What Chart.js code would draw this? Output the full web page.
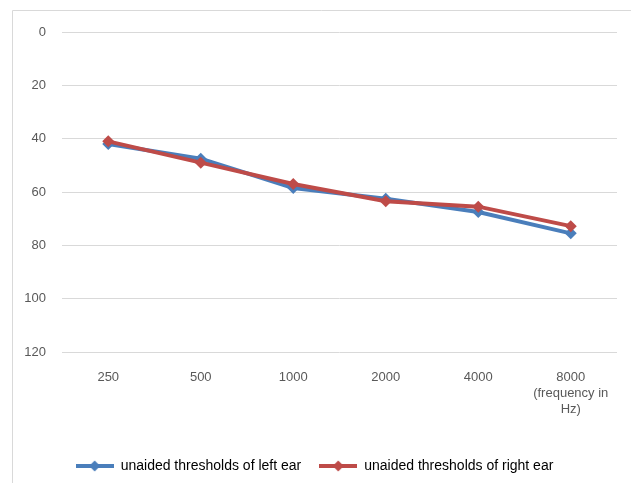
<!DOCTYPE html>
<html>
<head>
<meta charset="utf-8">
<script src="https://cdn.jsdelivr.net/npm/chart.js@4"></script>
<style>
  html, body { margin: 0; padding: 0; background: #fff; }
  #wrap { width: 631px; height: 483px; }
</style>
</head>
<body>
<div id="wrap"><canvas id="audiogram" width="631" height="483"></canvas></div>
<script>
const frequencies = ['250', '500', '1000', '2000', '4000', ['8000', '(frequency in', 'Hz)']];
const leftEar = [42, 47.5, 58.5, 62.5, 67.5, 75.5];
const rightEar = [41, 49, 57, 63.5, 65.5, 72.8];
const yTicks = [0, 20, 40, 60, 80, 100, 120];

const fontFamily = '"Liberation Sans Narrow", "Liberation Sans", sans-serif';

// small line + diamond icon for the legend
function legendIcon(color) {
    const c = document.createElement('canvas');
    c.width = 38; c.height = 12;
    const g = c.getContext('2d');
    g.strokeStyle = color;
    g.lineWidth = 4;
    g.beginPath();
    g.moveTo(0, 6); g.lineTo(38, 6);
    g.stroke();
    g.fillStyle = color;
    g.beginPath();
    g.moveTo(19, 0.5); g.lineTo(24.5, 6); g.lineTo(19, 11.5); g.lineTo(13.5, 6);
    g.closePath();
    g.fill();
    return c;
}

const frame = {
    id: 'frame',
    beforeDraw(chart) {
        const ctx = chart.ctx;
        ctx.save();
        ctx.strokeStyle = '#d9d9d9';
        ctx.lineWidth = 1;
        ctx.beginPath();
        ctx.moveTo(12.5, 483);
        ctx.lineTo(12.5, 10.5);
        ctx.lineTo(631, 10.5);
        ctx.stroke();
        ctx.restore();
    }
};

const series = [
    { label: 'unaided thresholds of left ear', data: leftEar, color: '#4A7EBB', order: 1 },
    { label: 'unaided thresholds of right ear', data: rightEar, color: '#BE4B48', order: 0 }
];

new Chart(document.getElementById('audiogram'), {
    type: 'line',
    data: {
        labels: frequencies,
        datasets: series.map(s => ({
            label: s.label,
            data: s.data,
            order: s.order,
            borderColor: s.color,
            backgroundColor: s.color,
            borderWidth: 4,
            pointStyle: 'rectRot',
            pointRadius: 6,
            pointBorderWidth: 0,
            tension: 0
        }))
    },
    options: {
        responsive: false,
        animation: false,
        layout: { padding: { left: 12, right: 14, top: 32, bottom: 0 } },
        plugins: {
            title: { display: false },
            tooltip: { enabled: false },
            legend: {
                position: 'bottom',
                labels: {
                    color: '#595959',
                    font: { family: fontFamily, size: 14 },
                    usePointStyle: true,
                    pointStyleWidth: 38,
                    padding: 18,
                    generateLabels(chart) {
                        return series.map((s, i) => ({
                            text: s.label,
                            pointStyle: legendIcon(s.color),
                            fillStyle: s.color,
                            strokeStyle: s.color,
                            lineWidth: 0,
                            datasetIndex: i,
                            hidden: false
                        }));
                    }
                }
            }
        },
        scales: {
            x: {
                offset: true,
                grid: { display: false },
                border: { display: false },
                ticks: {
                    color: '#595959',
                    font: { family: fontFamily, size: 13 },
                    padding: 10,
                    maxRotation: 0
                },
                afterFit(s) { s.height = 89; }
            },
            y: {
                reverse: true,
                min: 0,
                max: 120,
                afterBuildTicks(s) { s.ticks = yTicks.map(v => ({ value: v })); },
                grid: { color: '#d9d9d9', drawTicks: false, lineWidth: 1 },
                border: { display: false },
                ticks: {
                    color: '#595959',
                    font: { family: fontFamily, size: 13 },
                    padding: 16
                },
                afterFit(s) { s.width = 50; }
            }
        }
    },
    plugins: [frame]
});
</script>
</body>
</html>
